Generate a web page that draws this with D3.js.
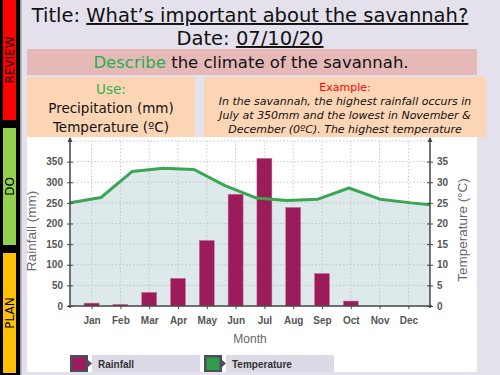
<!DOCTYPE html>
<html><head><meta charset="utf-8">
<script src="https://cdn.jsdelivr.net/npm/d3@7"></script>
<style>
html,body{margin:0;padding:0;background:#e4e0ec;}
svg{display:block;}
</style></head>
<body>
<svg id="c" width="500" height="375"></svg>
<script>
// ---- data ----
const months = ["Jan","Feb","Mar","Apr","May","Jun","Jul","Aug","Sep","Oct","Nov","Dec"];
const rainfall = [7, 4, 33, 67, 159, 271, 358, 239, 79, 12, 0, 0];
// temperature line vertices (evenly spaced across the plot, last one clipped at the right axis)
const temperature = [25.0, 26.3, 32.6, 33.4, 33.1, 29.2, 26.2, 25.6, 25.9, 28.6, 25.9, 25.0, 24.3];
const rainTicks = [0, 50, 100, 150, 200, 250, 300, 350];
const tempTicks = [0, 5, 10, 15, 20, 25, 30, 35];
const gridVals = [50, 100, 150, 200, 250, 300, 350, 400];
const strips = [
  {label:"REVIEW", color:"#ff0000", y0:0, y1:120},
  {label:"DO", color:"#92d050", y0:128, y1:245},
  {label:"PLAN", color:"#ffc000", y0:253, y1:373}
];
const exampleLines = [
  "In the savannah, the highest rainfall occurs in",
  "July at 350mm and the lowest in November &",
  "December (0\u00BAC). The highest temperature"
];

const svg = d3.select("#c");
const SLIDE = "'DejaVu Sans', sans-serif";
const CH = "'Liberation Sans', Arial, sans-serif";

// ---- left strip ----
svg.append("rect").attr("x",0).attr("y",0).attr("width",20).attr("height",375).attr("fill","#000");
svg.append("rect").attr("x",20).attr("y",0).attr("width",1.5).attr("height",375).attr("fill","#9a98a0");
strips.forEach(s=>{
  svg.append("rect").attr("x",3).attr("y",s.y0).attr("width",13).attr("height",s.y1-s.y0).attr("fill",s.color);
  const cy=(s.y0+s.y1)/2;
  svg.append("text").attr("transform",`translate(14,${cy}) rotate(-90)`)
    .attr("text-anchor","middle").attr("font-family",SLIDE).attr("font-size",12).attr("fill","#000").text(s.label);
});

// ---- title ----
const t1 = svg.append("text").attr("x",250).attr("y",22).attr("text-anchor","middle")
  .attr("font-family",SLIDE).attr("font-size",19.5).attr("fill","#111");
t1.append("tspan").text("Title: ");
t1.append("tspan").style("text-decoration","underline").text("What\u2019s important about the savannah?");
const t2 = svg.append("text").attr("x",250).attr("y",45).attr("text-anchor","middle")
  .attr("font-family",SLIDE).attr("font-size",19.5).attr("fill","#111");
t2.append("tspan").text("Date: ");
t2.append("tspan").style("text-decoration","underline").text("07/10/20");

// pink box
svg.append("rect").attr("x",27).attr("y",49).attr("width",450).attr("height",26).attr("fill","#e6b9b8");
const t3 = svg.append("text").attr("x",251).attr("y",68).attr("text-anchor","middle")
  .attr("font-family",SLIDE).attr("font-size",16.5).attr("fill","#111");
t3.append("tspan").attr("fill","#22b04b").text("Describe");
t3.append("tspan").text(" the climate of the savannah.");

// peach boxes
svg.append("rect").attr("x",27).attr("y",77).attr("width",168).attr("height",60).attr("fill","#fcd5b5");
svg.append("rect").attr("x",204).attr("y",77).attr("width",282).attr("height",60).attr("fill","#fcd5b5");
svg.append("text").attr("x",111).attr("y",94).attr("text-anchor","middle").attr("font-family",SLIDE)
  .attr("font-size",13.5).attr("fill","#2cb34a").text("Use:");
svg.append("text").attr("x",111).attr("y",113).attr("text-anchor","middle").attr("font-family",SLIDE)
  .attr("font-size",13.5).attr("fill","#111").text("Precipitation (mm)");
svg.append("text").attr("x",111).attr("y",132).attr("text-anchor","middle").attr("font-family",SLIDE)
  .attr("font-size",13.5).attr("fill","#111").text("Temperature (\u00BAC)");
svg.append("text").attr("x",345).attr("y",91).attr("text-anchor","middle").attr("font-family",SLIDE)
  .attr("font-size",11).attr("fill","#ff0000").text("Example:");
exampleLines.forEach((l,i)=>{
  svg.append("text").attr("x",345).attr("y",105+i*14).attr("text-anchor","middle").attr("font-family",SLIDE)
    .attr("font-style","italic").attr("font-size",11).attr("fill","#111").text(l);
});

// ---- chart panel ----
svg.append("rect").attr("x",27).attr("y",137).attr("width",450).attr("height",235).attr("fill","#fff");

const X0=70, X1=430, Y0=306, YT=141;
const x = d3.scalePoint().domain(months).range([X0,X1]).padding(0.75);
const yR = d3.scaleLinear().domain([0,400]).range([Y0,YT]);
const yT = d3.scaleLinear().domain([0,40]).range([Y0,YT]);
const xT = d3.scaleLinear().domain([0,12]).range([X0, X0+31*12]);

svg.append("defs").append("clipPath").attr("id","plot")
  .append("rect").attr("x",X0).attr("y",YT).attr("width",X1-X0).attr("height",Y0-YT);

const g = svg.append("g");
// area under temperature
g.append("path").attr("clip-path","url(#plot)")
  .datum(temperature)
  .attr("d", d3.area().x((d,i)=>xT(i)).y0(Y0).y1(d=>yT(d)))
  .attr("fill","#dde9ea");

// grid
g.selectAll(".hg").data(gridVals).join("line")
  .attr("x1",X0).attr("x2",X1).attr("y1",d=>yR(d)).attr("y2",d=>yR(d))
  .attr("stroke","#c8c8c8").attr("stroke-width",1).attr("stroke-dasharray","1.5,2");
g.selectAll(".vg").data(months).join("line")
  .attr("x1",d=>x(d)).attr("x2",d=>x(d)).attr("y1",YT).attr("y2",Y0)
  .attr("stroke","#c8c8c8").attr("stroke-width",1).attr("stroke-dasharray","1.5,2");

// bars
const bw = 15;
g.selectAll(".bar").data(rainfall).join("rect")
  .attr("x",(d,i)=>x(months[i])-bw/2).attr("width",bw)
  .attr("y",d=>yR(d)).attr("height",d=>Y0-yR(d))
  .attr("fill","#9c1c5b").attr("stroke","#c67a9c").attr("stroke-width",0.5);

// temperature line
g.append("path").attr("clip-path","url(#plot)")
  .datum(temperature)
  .attr("d", d3.line().x((d,i)=>xT(i)).y(d=>yT(d)))
  .attr("fill","none").attr("stroke","#3aa655").attr("stroke-width",3).attr("stroke-linejoin","round");

// axes
const axCol="#444";
function styleAxis(sel){
  sel.select(".domain").remove();
  sel.selectAll("text").attr("font-family",CH).attr("font-weight","bold").attr("font-size",10).attr("fill","#555");
  sel.selectAll(".tick line").attr("stroke",axCol);
}
const la = svg.append("g").attr("transform",`translate(${X0},0)`)
  .call(d3.axisLeft(yR).tickValues(rainTicks).tickSize(3).tickPadding(4));
styleAxis(la);
la.selectAll(".tick line").attr("x1",-3).attr("x2",3);
const ra = svg.append("g").attr("transform",`translate(${X1},0)`)
  .call(d3.axisRight(yT).tickValues(tempTicks).tickSize(3).tickPadding(4));
styleAxis(ra);
ra.selectAll(".tick line").attr("x1",-3).attr("x2",3);
const ba = svg.append("g").attr("transform",`translate(0,${Y0})`)
  .call(d3.axisBottom(x).tickSize(3).tickPadding(8));
styleAxis(ba);

// axis lines with arrow tops
[X0,X1].forEach(ax=>{
  svg.append("line").attr("x1",ax).attr("x2",ax).attr("y1",YT-3).attr("y2",Y0+2).attr("stroke",axCol).attr("stroke-width",1.5);
  svg.append("path").attr("d",`M${ax-2.5},${YT+1}L${ax},${YT-4}L${ax+2.5},${YT+1}Z`).attr("fill",axCol);
});
svg.append("line").attr("x1",X0-2).attr("x2",X1+2).attr("y1",Y0).attr("y2",Y0).attr("stroke",axCol).attr("stroke-width",1.5);

// axis titles
svg.append("text").attr("transform",`translate(36,231) rotate(-90)`).attr("text-anchor","middle")
  .attr("font-family",CH).attr("font-size",13.5).attr("fill","#666").text("Rainfall (mm)");
svg.append("text").attr("transform",`translate(467,230) rotate(-90)`).attr("text-anchor","middle")
  .attr("font-family",CH).attr("font-size",13.5).attr("fill","#666").text("Temperature (\u00B0C)");
svg.append("text").attr("x",250).attr("y",343).attr("text-anchor","middle")
  .attr("font-family",CH).attr("font-size",12).attr("fill","#666").text("Month");

// legend
const legend = [{name:"Rainfall", color:"#9c1c5b", x:70},{name:"Temperature", color:"#2e9e4a", x:204}];
legend.forEach(l=>{
  const lg = svg.append("g").attr("transform",`translate(${l.x},355)`);
  lg.append("rect").attr("x",22).attr("y",0).attr("width",108).attr("height",17).attr("fill","#dcdae6");
  lg.append("rect").attr("x",0).attr("y",0).attr("width",18).attr("height",17).attr("fill","#4f4a5e");
  lg.append("rect").attr("x",2.5).attr("y",2.5).attr("width",13).attr("height",12.5).attr("fill",l.color);
  lg.append("path").attr("d","M18,5L22,8.5L18,12Z").attr("fill","#4f4a5e");
  lg.append("text").attr("x",28).attr("y",13).attr("font-family",CH).attr("font-weight","bold")
    .attr("font-size",10).attr("fill","#333").text(l.name);
});
// bottom lavender edge
svg.append("rect").attr("x",27).attr("y",372).attr("width",450).attr("height",3).attr("fill","#e4e0ec");
</script>
</body></html>
